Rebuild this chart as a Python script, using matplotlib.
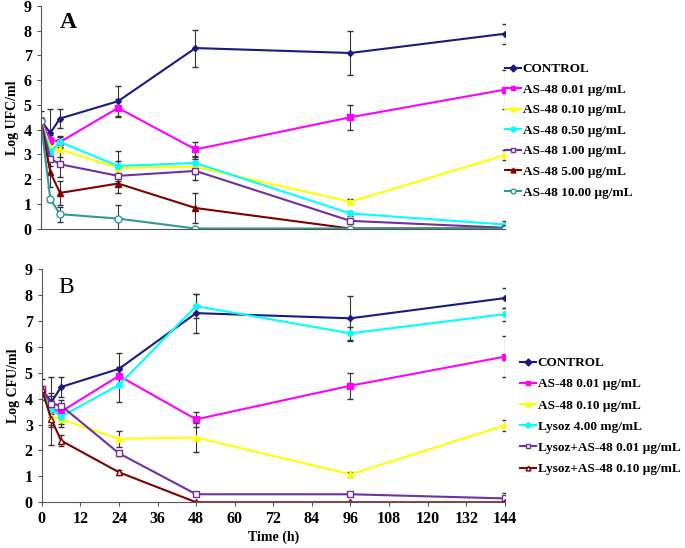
import matplotlib
matplotlib.use('Agg')
from matplotlib import pyplot as plt

plt.rcParams['font.family'] = ['Liberation Serif', 'DejaVu Serif']

hours = [0, 3, 6, 24, 48, 96, 144]
xticks = list(range(0, 145, 12))

# panel A
control = [4.36, 3.87, 4.45, 5.15, 7.3, 7.1, 7.88]
control_err = [0.4, 0.95, 0.37, 0.6, 0.75, 0.87, 0.4]
as001 = [4.36, 3.6, 3.5, 4.88, 3.2, 4.5, 5.62]
as001_err = [0.1, 0.2, 0.25, 0.35, 0.3, 0.5, 0.78]
as010 = [4.36, 3.3, 3.2, 2.45, 2.5, 1.08, 2.97]
as010_err = [0.1, 0.3, 0.3, 0.3, 0.3, 0.1, 0.2]
as050 = [4.36, 3.1, 3.5, 2.53, 2.65, 0.61, 0.16]
as050_err = [0.1, 0.2, 0.2, 0.6, 0.3, 0.1, 0.15]
as100 = [4.36, 2.82, 2.6, 2.13, 2.33, 0.31, 0.03]
as100_err = [0.1, 0.3, 0.5, 0.4, 0.35, 0.05, 0.05]
as500 = [4.36, 2.27, 1.44, 1.82, 0.83, 0.0, 0.0]
as500_err = [0.1, 0.6, 0.5, 0.4, 0.6, 0.0, 0.0]
as1000 = [4.36, 1.19, 0.58, 0.4, 0.0, 0.0, 0.0]
as1000_err = [0.1, 0.1, 0.3, 0.55, 0.0, 0.0, 0.0]

# panel B
lys = [4.36, 3.6, 3.31, 4.53, 7.57, 6.52, 7.26]
lys_err = [0.1, 0.3, 0.3, 0.65, 0.45, 0.25, 0.25]
lys_as001 = [4.36, 3.8, 3.73, 1.89, 0.31, 0.31, 0.15]
lys_as001_err = [0.1, 0.3, 0.2, 0.1, 0.05, 0.05, 0.2]
lys_as010 = [4.36, 3.2, 2.38, 1.16, 0.0, 0.0, 0.0]
lys_as010_err = [0.1, 1.0, 0.2, 0.1, 0.0, 0.0, 0.0]
b_as010_err = [0.1, 0.3, 0.3, 0.3, 0.55, 0.1, 0.2]

navy = '#1a1a80'
magenta = '#ff00ff'
yellow = '#ffff00'
cyan = '#00ffff'
purple = '#7030a0'
darkred = '#800000'
teal = '#2e9a96'

fig = plt.figure(figsize=(6.85, 5.48), dpi=100)
axA = fig.add_axes([0.0594, 0.583, 0.678, 0.406])
axB = fig.add_axes([0.061, 0.0834, 0.676, 0.4256])


def draw(ax, y, err, color, marker, label, face=None, ms=4):
    ax.errorbar(hours, y, yerr=err, color=color, lw=1.5, marker=marker, ms=ms,
                mfc=face if face else color, mec=color, mew=1,
                ecolor='#333333', elinewidth=0.8, capsize=2, capthick=0.8,
                label=label)


draw(axA, control, control_err, navy, 'D', 'CONTROL', ms=3)
draw(axA, as001, as001_err, magenta, 's', 'AS-48 0.01 µg/mL')
draw(axA, as010, as010_err, yellow, '^', 'AS-48 0.10 µg/mL')
draw(axA, as050, as050_err, cyan, 'o', 'AS-48 0.50 µg/mL')
draw(axA, as100, as100_err, purple, 's', 'AS-48 1.00 µg/mL', face='white', ms=5)
draw(axA, as500, as500_err, darkred, '^', 'AS-48 5.00 µg/mL')
draw(axA, as1000, as1000_err, teal, 'o', 'AS-48 10.00 µg/mL', face='white', ms=5)

draw(axB, control, control_err, navy, 'D', 'CONTROL', ms=3)
draw(axB, as001, as001_err, magenta, 's', 'AS-48 0.01 µg/mL')
draw(axB, as010, b_as010_err, yellow, '^', 'AS-48 0.10 µg/mL')
draw(axB, lys, lys_err, cyan, 'o', 'Lysoz 4.00 mg/mL')
draw(axB, lys_as001, lys_as001_err, purple, 's', 'Lysoz+AS-48 0.01 µg/mL', face='white', ms=5)
draw(axB, lys_as010, lys_as010_err, darkred, '^', 'Lysoz+AS-48 0.10 µg/mL', face='white', ms=5)

for ax in (axA, axB):
    ax.set_xlim(0, 144)
    ax.set_ylim(0, 9)
    ax.set_yticks(range(10))
    ax.spines['top'].set_visible(False)
    ax.spines['right'].set_visible(False)
    ax.spines['left'].set_color('#555555')
    ax.spines['bottom'].set_color('#555555')
    ax.tick_params(axis='both', length=3, color='#555555', labelsize=11.5)
    for lab in ax.get_yticklabels():
        lab.set_fontweight('bold')
    for sp in ax.spines.values():
        sp.set_clip_on(False)

axA.set_xticks([])
axB.set_xticks(xticks)
for lab in axB.get_xticklabels():
    lab.set_fontweight('bold')

axA.set_ylabel('Log UFC/ml', fontsize=10, fontweight='bold', labelpad=3)
axB.set_ylabel('Log CFU/ml', fontsize=10, fontweight='bold', labelpad=3)
axB.set_xlabel('Time (h)', fontsize=10, fontweight='bold', labelpad=2)

axA.text(0.041, 0.975, 'A', transform=axA.transAxes, fontsize=17, fontweight='bold', va='top')
axB.text(0.036, 0.965, 'B', transform=axB.transAxes, fontsize=17, va='top')

legkw = dict(frameon=False, fontsize=9.5, handlelength=1.2, handletextpad=0.15,
             borderaxespad=0, borderpad=0)
hA, lA = axA.get_legend_handles_labels()
hA = [h[0] for h in hA]
legA = fig.legend(hA, lA, loc='upper left', bbox_to_anchor=(0.737, 0.885),
                  labelspacing=0.63, **legkw)
hB, lB = axB.get_legend_handles_labels()
hB = [h[0] for h in hB]
legB = fig.legend(hB, lB, loc='upper left', bbox_to_anchor=(0.759, 0.3485),
                  labelspacing=0.68, **legkw)
for leg in (legA, legB):
    for t in leg.get_texts():
        t.set_fontweight('bold')
    for h in leg.legend_handles:
        h.set_markersize(3.5)
        h.set_linewidth(1.5)

fig.savefig('out.png', dpi=100)
